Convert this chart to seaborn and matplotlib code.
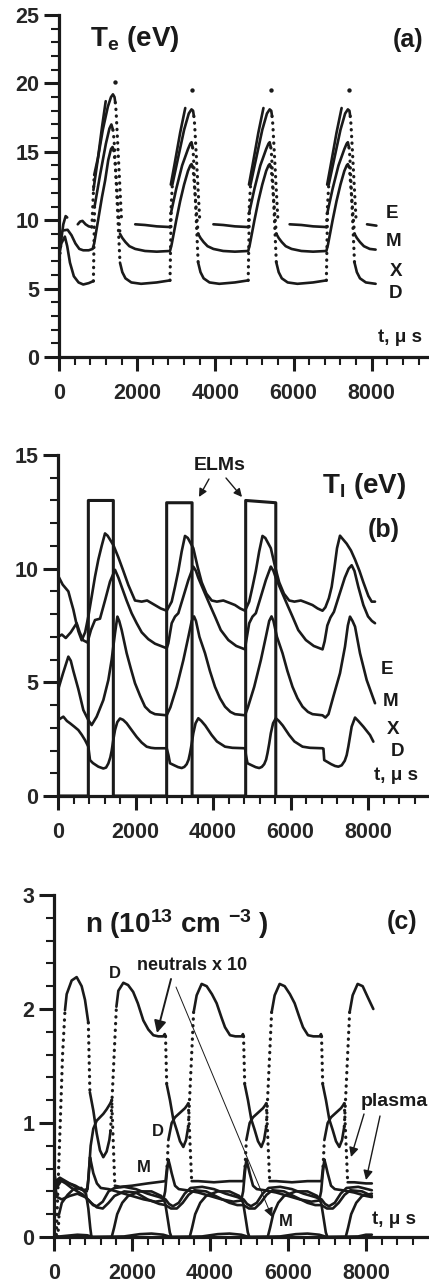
import numpy as np
import matplotlib
matplotlib.use('Agg')
import matplotlib.pyplot as plt
from matplotlib.ticker import MultipleLocator, FixedLocator
import seaborn as sns

nan = np.nan

# ---------------- (a) electron temperature, eV ----------------
te_E_t = [0, 50, 110, 170, 210, nan, 480, 540, 600, 680, 760, 840, 900, 1000, 1120, 1250, 1330, 1380, 1420, 1440, 1460, 1600, nan,
          1950, 2200, 2500, 2840, 2900, 3050, 3200, 3320, 3390, 3430, 3450, 3470, 3600, nan,
          3950, 4200, 4500, 4840, 4900, 5050, 5200, 5320, 5390, 5430, 5450, 5470, 5600, nan,
          5900, 6200, 6500, 6840, 6900, 7050, 7200, 7320, 7390, 7430, 7450, 7470, 7600, nan,
          7880, 8000, 8120]
te_E_v = [6.6, 8.4, 9.7, 10.3, 10.2, nan, 9.7, 9.9, 9.95, 9.7, 9.55, 9.5, 13.3, 14.6, 16.6, 18.3, 19.0, 19.2, 19.0, 18.6, 18.0, 10.0, nan,
          9.7, 9.65, 9.55, 9.5, 12.6, 14.6, 16.6, 17.8, 18.1, 18.0, 17.6, 17.0, 10.0, nan,
          9.7, 9.65, 9.55, 9.5, 12.6, 14.6, 16.6, 17.8, 18.1, 18.0, 17.6, 17.0, 10.0, nan,
          9.7, 9.65, 9.55, 9.5, 12.6, 14.6, 16.6, 17.8, 18.1, 18.0, 17.6, 17.0, 10.0, nan,
          9.7, 9.65, 9.6]

te_M_t = [100, 220, 320, 420, 520, 620, 760, 860, 900, 1000, 1100, 1180, 1260, 1330, 1370, 1400, 1420, 1440,
          1560, 1620, 1700, 1800, 1950, 2200, 2500, 2840, 2880, 3000, 3100, 3200, 3300, 3360, 3390, 3420, 3440,
          3560, 3620, 3700, 3800, 3950, 4200, 4500, 4840, 4880, 5000, 5100, 5200, 5300, 5360, 5390, 5420, 5440,
          5560, 5620, 5700, 5800, 5950, 6200, 6500, 6840, 6880, 7000, 7100, 7200, 7300, 7360, 7390, 7420, 7440,
          7560, 7620, 7700, 7800, 7950, 8100]
te_M_v = [9.25, 9.3, 8.9, 8.3, 7.9, 7.8, 7.8, 7.9, 8.3, 10.0, 11.7, 12.9, 14.4, 15.2, 15.35, 15.1, 14.6, 14.0,
          9.0, 8.7, 8.4, 8.1, 7.9, 7.75, 7.7, 7.75, 8.2, 10.0, 11.4, 12.6, 13.6, 14.0, 14.1, 13.9, 13.4,
          9.0, 8.7, 8.4, 8.1, 7.9, 7.75, 7.7, 7.75, 8.2, 10.0, 11.4, 12.6, 13.6, 14.0, 14.1, 13.9, 13.4,
          9.0, 8.7, 8.4, 8.1, 7.9, 7.75, 7.7, 7.75, 8.2, 10.0, 11.4, 12.6, 13.6, 14.0, 14.1, 13.9, 13.4,
          9.0, 8.7, 8.4, 8.1, 7.9, 7.85]

te_D_t = [0, 60, 150, 210, 280, 380, 500, 620, 760, 880, 910, 1050, 1200, 1290, 1340, 1380, 1400, 1420,
          1560, 1620, 1700, 1850, 2100, 2500, 2840, 2870, 3000, 3150, 3300, 3360, 3390, 3420, 3440,
          3560, 3620, 3700, 3850, 4100, 4500, 4840, 4870, 5000, 5150, 5300, 5360, 5390, 5420, 5440,
          5560, 5620, 5700, 5850, 6100, 6500, 6840, 6870, 7000, 7150, 7300, 7360, 7390, 7420, 7440,
          7560, 7620, 7700, 7850, 8100]
te_D_v = [7.4, 8.3, 8.8, 8.1, 6.9, 5.9, 5.45, 5.3, 5.4, 5.55, 11.0, 13.3, 15.6, 16.7, 17.0, 16.6, 16.1, 15.4,
          6.9, 6.2, 5.75, 5.45, 5.35, 5.45, 5.6, 10.6, 12.3, 14.0, 15.2, 15.6, 15.7, 15.3, 14.7,
          6.9, 6.2, 5.75, 5.45, 5.35, 5.45, 5.6, 10.6, 12.3, 14.0, 15.2, 15.6, 15.7, 15.3, 14.7,
          6.9, 6.2, 5.75, 5.45, 5.35, 5.45, 5.6, 10.6, 12.3, 14.0, 15.2, 15.6, 15.7, 15.3, 14.7,
          6.9, 6.2, 5.75, 5.45, 5.35]

te_X_t = [880, 1000, 1100, 1195, nan, 1443, nan, 2860, 2950, 3100, 3230, nan, 3415, nan,
          4860, 4950, 5100, 5230, nan, 5415, nan, 6860, 6950, 7100, 7230, nan, 7415]
te_X_v = [12.2, 14.6, 16.8, 18.7, nan, 20.1, nan, 12.6, 14.0, 16.4, 18.2, nan, 19.5, nan,
          12.6, 14.0, 16.4, 18.2, nan, 19.5, nan, 12.6, 14.0, 16.4, 18.2, nan, 19.5]

# ---------------- (b) ion temperature, eV ----------------
elm_t = [0, 783, 783, 1428, 1428, 2804, 2804, 3460, 3460, 4843, 4843, 5620, 5620]
elm_v = [0, 0, 13.0, 13.0, 0, 0, 12.9, 12.9, 0, 0, 13.0, 12.9, 0]

ti_E_t = [0, 120, 267, 330, 396, 460, 525, 611, 700, 783, 869, 955, 1041, 1127, 1213, 1280, 1428, 1557, 1686, 1815,
          1987, 2159, 2300, 2450, 2650, 2805, 2934, 3019, 3105, 3191, 3277, 3350, 3492, 3600, 3708, 3830, 3966,
          4100, 4266, 4420, 4567, 4700, 4826, 4934, 5019, 5105, 5191, 5277, 5350, 5492, 5600, 5708, 5830, 5966,
          6100, 6266, 6420, 6567, 6700, 6826, 6900, 6990, 7062, 7130, 7200, 7277, 7350, 7449, 7560, 7665, 7780,
          7880, 8009, 8095, 8181]
ti_E_v = [9.7, 9.3, 9.0, 8.6, 8.2, 7.7, 7.25, 6.85, 7.2, 7.9, 8.77, 9.65, 10.4, 11.0, 11.55, 11.45, 11.04, 10.5, 9.9, 9.28,
          8.6, 8.55, 8.6, 8.45, 8.25, 8.15, 8.55, 9.2, 9.9, 10.75, 11.44, 11.35, 10.9, 10.1, 9.4, 8.9, 8.6,
          8.55, 8.6, 8.5, 8.4, 8.25, 8.15, 8.55, 9.2, 9.9, 10.75, 11.44, 11.35, 10.9, 10.1, 9.4, 8.9, 8.6,
          8.55, 8.6, 8.5, 8.4, 8.25, 8.15, 8.3, 8.7, 9.2, 10.0, 10.9, 11.45, 11.3, 11.1, 10.8, 10.4, 9.9,
          9.4, 8.8, 8.55, 8.55]

ti_M_t = [0, 100, 200, 330, 482, 560, 650, 760, 850, 955, 1084, 1213, 1342, 1471, 1560, 1643, 1770, 1900, 2030,
          2160, 2330, 2503, 2805, 2847, 2934, 3019, 3105, 3235, 3364, 3492, 3560, 3620, 3794, 3920, 4052, 4200,
          4396, 4600, 4826, 4847, 4934, 5019, 5105, 5235, 5364, 5492, 5560, 5620, 5794, 5920, 6052, 6200,
          6396, 6600, 6826, 6880, 6950, 7030, 7120, 7250, 7400, 7500, 7578, 7650, 7750, 7880, 8000, 8100, 8181]
ti_M_v = [7.0, 7.1, 6.95, 7.2, 7.6, 7.2, 6.85, 6.75, 7.3, 7.74, 7.8, 8.6, 9.43, 9.95, 9.6, 9.2, 8.6, 8.04, 7.6,
          7.2, 6.9, 6.7, 6.5, 6.72, 7.6, 7.89, 8.04, 8.77, 9.5, 10.09, 9.9, 9.6, 8.9, 8.4, 7.89, 7.3,
          6.86, 6.6, 6.45, 6.72, 7.6, 7.89, 8.04, 8.77, 9.5, 10.09, 9.9, 9.6, 8.9, 8.4, 7.89, 7.3,
          6.86, 6.6, 6.45, 6.8, 7.5, 7.85, 8.1, 8.8, 9.6, 10.0, 10.15, 9.9, 9.2, 8.4, 7.9, 7.7, 7.6]

ti_X_t = [0, 130, 267, 330, 396, 525, 654, 783, 868, 998, 1170, 1299, 1385, 1471, 1532, 1580, 1643, 1772, 1880,
          1987, 2120, 2245, 2380, 2503, 2805, 2900, 3063, 3235, 3364, 3450, 3510, 3560, 3650, 3794, 3920, 4052,
          4180, 4310, 4450, 4568, 4826, 4900, 5063, 5235, 5364, 5450, 5510, 5560, 5650, 5794, 5920, 6052,
          6180, 6310, 6450, 6568, 6826, 6900, 6980, 7105, 7277, 7406, 7480, 7535, 7600, 7665, 7793, 7966, 8181]
ti_X_v = [4.66, 5.4, 6.13, 5.95, 5.5, 4.7, 3.78, 3.34, 3.12, 3.49, 4.22, 5.1, 6.0, 7.16, 7.89, 7.7, 7.3, 6.28, 5.6,
          4.96, 4.4, 3.93, 3.7, 3.6, 3.55, 3.9, 4.8, 5.98, 7.0, 7.7, 7.9, 7.7, 7.0, 6.28, 5.5, 4.8,
          4.3, 3.93, 3.7, 3.6, 3.55, 3.9, 4.8, 5.98, 7.0, 7.7, 7.9, 7.7, 7.0, 6.28, 5.5, 4.8,
          4.3, 3.93, 3.7, 3.6, 3.55, 3.45, 3.6, 4.37, 5.4, 6.57, 7.5, 7.89, 7.7, 7.45, 6.28, 5.1, 4.08]

ti_D_t = [0, 138, 230, 310, 420, 525, 610, 697, 783, 826, 900, 1041, 1170, 1240, 1299, 1350, 1385, 1430, 1471,
          1530, 1600, 1680, 1772, 1900, 2030, 2160, 2288, 2400, 2503, 2805, 2850, 2890, 3000, 3100, 3192, 3260,
          3321, 3370, 3406, 3450, 3492, 3550, 3621, 3700, 3800, 3966, 4100, 4310, 4500, 4826, 4850, 4890,
          5000, 5100, 5192, 5260, 5321, 5370, 5406, 5450, 5492, 5550, 5621, 5700, 5800, 5966, 6100, 6310,
          6500, 6826, 6850, 6870, 6950, 7050, 7150, 7235, 7320, 7400, 7450, 7492, 7578, 7665, 7750, 7880,
          8052, 8138]
ti_D_v = [3.34, 3.49, 3.3, 3.2, 3.05, 2.9, 2.7, 2.46, 2.17, 1.58, 1.45, 1.29, 1.21, 1.25, 1.43, 1.7, 1.99, 2.5, 2.9,
          3.25, 3.41, 3.35, 3.2, 2.9, 2.6, 2.35, 2.17, 2.12, 2.1, 2.1, 1.8, 1.44, 1.35, 1.27, 1.23, 1.28,
          1.4, 1.6, 1.88, 2.3, 2.76, 3.2, 3.42, 3.3, 3.1, 2.68, 2.4, 2.17, 2.12, 2.1, 1.8, 1.44,
          1.35, 1.27, 1.23, 1.28, 1.4, 1.6, 1.88, 2.3, 2.76, 3.2, 3.42, 3.3, 3.1, 2.68, 2.4, 2.17,
          2.12, 2.1, 2.08, 1.58, 1.5, 1.4, 1.32, 1.29, 1.35, 1.55, 1.8, 2.17, 3.05, 3.45, 3.3, 3.05,
          2.68, 2.39]

# ---------------- (c) density, 1e13 cm^-3 ----------------
nD_neu_t = [60, 150, 220, 282, 325, 453, 581, 709, 795, 880, 920, 1008, 1094, 1179, 1264, 1350, 1419, 1450, 1600,
            1650, 1778, 1900, 2030, 2150, 2290, 2419, 2547, 2675, 2800, 2840, 2860,
            2890, 2974, 3060, 3145, 3231, 3316, 3385, 3444, 3580, 3658, 3786, 3915, 4050, 4171, 4300, 4385,
            4513, 4650, 4820, 4845, 4860,
            4890, 4974, 5060, 5145, 5231, 5316, 5385, 5444, 5580, 5658, 5786, 5915, 6050, 6171, 6300, 6385,
            6513, 6650, 6820, 6845, 6860,
            6890, 6974, 7060, 7145, 7231, 7316, 7385, 7444, 7580, 7658, 7786, 7915, 8050, 8188]
nD_neu_v = [0.02, 0.9, 1.6, 1.99, 2.13, 2.25, 2.28, 2.2, 2.08, 1.88, 1.27, 1.11, 0.91, 0.76, 0.70, 0.75, 0.85, 0.93, 2.02,
            2.16, 2.23, 2.21, 2.15, 2.05, 1.9, 1.82, 1.77, 1.76, 1.76, 1.78, 1.76,
            1.34, 1.2, 1.03, 0.94, 0.84, 0.79, 0.85, 0.97, 1.97, 2.12, 2.22, 2.2, 2.13, 2.05, 1.92, 1.84,
            1.77, 1.76, 1.76, 1.78, 1.76,
            1.34, 1.2, 1.03, 0.94, 0.84, 0.79, 0.85, 0.97, 1.97, 2.12, 2.22, 2.2, 2.13, 2.05, 1.92, 1.84,
            1.77, 1.76, 1.76, 1.78, 1.76,
            1.34, 1.2, 1.03, 0.94, 0.84, 0.79, 0.85, 0.97, 1.97, 2.12, 2.22, 2.2, 2.1, 2.0]

nD_pl_t = [0, 40, 100, 200, 300, 450, 600, 750, 860, 900, 940, 1008, 1094, 1179, 1264, 1350, 1440, 1480, 1560,
           1700, 2000, 2400, 2860, 2900, 2932, 3017, 3103, 3231, 3359, 3444, 3530, 3700, 4100, 4500, 4860,
           4900, 4932, 5017, 5103, 5231, 5359, 5444, 5530, 5700, 6100, 6500, 6860,
           6900, 6932, 7017, 7103, 7231, 7359, 7444, 7530, 7700, 8000, 8150]
nD_pl_v = [0.58, 0.5, 0.45, 0.5, 0.48, 0.46, 0.43, 0.41, 0.42, 0.6, 0.8, 0.95, 1.02, 1.05, 1.08, 1.12, 1.17, 1.2, 0.45,
           0.44, 0.45, 0.47, 0.49, 0.62, 0.85, 1.0, 1.05, 1.09, 1.13, 1.17, 0.49, 0.49, 0.48, 0.49, 0.49,
           0.62, 0.85, 1.0, 1.05, 1.09, 1.13, 1.17, 0.49, 0.49, 0.48, 0.49, 0.49,
           0.62, 0.85, 1.0, 1.05, 1.09, 1.13, 1.17, 0.48, 0.48, 0.47, 0.47]

nM_pl_t = [0, 30, 80, 150, 250, 400, 550, 700, 840, 880, 923, 960, 1008, 1100, 1200, 1400, 1700, 2000, 2300, 2600,
           2800, 2850, 2890, 2932, 2970, 3017, 3103, 3200, 3400, 3700, 4000, 4300, 4600, 4800, 4850, 4890,
           4932, 4970, 5017, 5103, 5200, 5400, 5700, 6000, 6300, 6600, 6800, 6850, 6890, 6932, 6970, 7017,
           7103, 7200, 7400, 7700, 8000, 8150]
nM_pl_v = [0.6, 0.42, 0.5, 0.52, 0.5, 0.47, 0.45, 0.42, 0.4, 0.5, 0.70, 0.64, 0.56, 0.47, 0.43, 0.42, 0.39, 0.36, 0.33, 0.31,
           0.32, 0.4, 0.55, 0.68, 0.63, 0.56, 0.45, 0.42, 0.41, 0.39, 0.36, 0.33, 0.31, 0.32, 0.4, 0.55,
           0.68, 0.63, 0.56, 0.45, 0.42, 0.41, 0.39, 0.36, 0.33, 0.31, 0.32, 0.4, 0.55, 0.68, 0.63, 0.56,
           0.45, 0.42, 0.41, 0.39, 0.36, 0.35]

nE_pl_t = [0, 60, 150, 300, 450, 600, 750, 900, 1000, 1100, 1250, 1400, 1550, 1800, 2100, 2400, 2700, 2860, 2950,
           3050, 3200, 3350, 3500, 3800, 4100, 4400, 4700, 4860, 4950, 5050, 5200, 5350, 5500, 5800, 6100,
           6400, 6700, 6860, 6950, 7050, 7200, 7350, 7500, 7800, 8150]
nE_pl_v = [0.3, 0.45, 0.5, 0.47, 0.43, 0.4, 0.37, 0.32, 0.28, 0.27, 0.31, 0.4, 0.43, 0.44, 0.42, 0.38, 0.35, 0.33, 0.29,
           0.27, 0.3, 0.38, 0.43, 0.44, 0.42, 0.38, 0.35, 0.33, 0.29, 0.27, 0.3, 0.38, 0.43, 0.44, 0.42,
           0.38, 0.35, 0.33, 0.29, 0.27, 0.3, 0.38, 0.43, 0.44, 0.41]

nX_pl_t = [0, 80, 200, 400, 600, 800, 950, 1100, 1250, 1400, 1550, 1800, 2100, 2400, 2700, 2860, 3000, 3150, 3300,
           3450, 3600, 3900, 4200, 4500, 4700, 4860, 5000, 5150, 5300, 5450, 5600, 5900, 6200, 6500, 6700,
           6860, 7000, 7150, 7300, 7450, 7600, 7900, 8150]
nX_pl_v = [0.5, 0.35, 0.33, 0.36, 0.38, 0.35, 0.3, 0.26, 0.25, 0.3, 0.36, 0.4, 0.39, 0.33, 0.29, 0.28, 0.25, 0.25, 0.3,
           0.37, 0.41, 0.4, 0.35, 0.3, 0.28, 0.28, 0.25, 0.25, 0.3, 0.37, 0.41, 0.4, 0.35, 0.3, 0.28,
           0.28, 0.25, 0.25, 0.3, 0.37, 0.41, 0.4, 0.36]

nM_neu_t = [100, 130, 200, 350, 500, 700, 820, 880, 930, 960, 1480, 1540, 1620, 1750, 1900, 2200, 2500, 2750, 2850,
            2920, 2970, 3010, 3480, 3540, 3620, 3750, 3900, 4200, 4500, 4750, 4850, 4920, 4970, 5010, 5480,
            5540, 5620, 5750, 5900, 6200, 6500, 6750, 6850, 6920, 6970, 7010, 7480, 7540, 7620, 7750, 7900, 8150]
nM_neu_v = [0.0, 0.2, 0.3, 0.37, 0.42, 0.43, 0.38, 0.25, 0.08, 0.0, 0.0, 0.08, 0.2, 0.3, 0.36, 0.4, 0.4, 0.36, 0.3,
            0.15, 0.04, 0.0, 0.0, 0.08, 0.2, 0.3, 0.36, 0.4, 0.4, 0.36, 0.3, 0.15, 0.04, 0.0, 0.0,
            0.08, 0.2, 0.3, 0.36, 0.4, 0.4, 0.36, 0.3, 0.15, 0.04, 0.0, 0.0, 0.08, 0.2, 0.3, 0.36, 0.38]

nX_neu_t = [0, 300, 600, 850, 1000, 1800, 2200, 2500, 2800, 3000, 3800, 4200, 4500, 4800, 5000, 5800, 6200, 6500,
            6800, 7000, 7800, 8000, 8150]
nX_neu_v = [0.0, 0.01, 0.02, 0.015, 0.0, 0.005, 0.025, 0.03, 0.02, 0.0, 0.005, 0.025, 0.03, 0.02, 0.0, 0.005, 0.025, 0.03,
            0.02, 0.0, 0.005, 0.02, 0.02]

# ---------------- styling ----------------
sns.set_theme(style='white')
plt.rcParams['font.family'] = ['Liberation Sans', 'DejaVu Sans']
plt.rcParams['font.weight'] = 'bold'
plt.rcParams['mathtext.fontset'] = 'custom'
plt.rcParams['mathtext.rm'] = 'Liberation Sans:bold'
plt.rcParams['mathtext.it'] = 'Liberation Sans:bold'
plt.rcParams['mathtext.bf'] = 'Liberation Sans:bold'
plt.rcParams['axes.linewidth'] = 2.2

W, H = 429, 1284
LW = 1.9
fig = plt.figure(figsize=(W / 100, H / 100), dpi=100)
fig.patch.set_facecolor('white')


def fig_xy(x, y):
    return x / W, 1 - y / H


def make_axes(left, right, bottom, top, xmax, ymax, ymaj, ymin):
    ax = fig.add_axes([left / W, 1 - bottom / H, (right - left) / W, (bottom - top) / H])
    ax.set_xlim(0, xmax)
    ax.set_ylim(0, ymax)
    ax.set_facecolor('none')
    for s in ['top', 'right']:
        ax.spines[s].set_visible(False)
    for s in ['left', 'bottom']:
        ax.spines[s].set_color('k')
        ax.spines[s].set_linewidth(2.3)
    ax.xaxis.set_major_locator(FixedLocator([0, 2000, 4000, 6000, 8000]))
    ax.xaxis.set_minor_locator(MultipleLocator(400))
    ax.yaxis.set_major_locator(MultipleLocator(ymaj))
    ax.yaxis.set_minor_locator(MultipleLocator(ymin))
    ax.tick_params(axis='x', which='major', direction='out', length=10, width=2.2, color='k',
                   labelsize=15.5, pad=8.5, bottom=True)
    ax.tick_params(axis='x', which='minor', direction='out', length=5.5, width=1.5, color='k', bottom=True)
    ax.tick_params(axis='y', which='major', direction='out', length=11, width=2.2, color='k',
                   labelsize=15.5, pad=3, left=True)
    ax.tick_params(axis='y', which='minor', direction='out', length=6, width=1.5, color='k', left=True)
    for lab in ax.get_xticklabels() + ax.get_yticklabels():
        lab.set_fontweight('bold')
    ax.grid(False)
    return ax


def draw_trace(ax, t, v, steep=None, lw=LW):
    t = np.asarray(t, dtype=float)
    v = np.asarray(v, dtype=float)
    xy = ax.transData.transform(np.column_stack([np.nan_to_num(t, nan=0.0), np.nan_to_num(v, nan=0.0)]))
    good = np.isfinite(t) & np.isfinite(v)
    ok = good[:-1] & good[1:]
    dx = np.abs(np.diff(xy[:, 0]))
    dy = np.abs(np.diff(xy[:, 1]))
    if steep is None:
        fast = np.zeros_like(ok)
    else:
        fast = ok & (dy > steep * np.maximum(dx, 1e-6))
    kind = np.where(~ok, 0, np.where(fast, 2, 1))
    n = len(kind)
    i = 0
    while i < n:
        if kind[i] == 0:
            i += 1
            continue
        j = i
        while j < n and kind[j] == kind[i]:
            j += 1
        if kind[i] == 1:
            sns.lineplot(x=t[i:j + 1], y=v[i:j + 1], ax=ax, color='k', lw=lw, sort=False,
                         estimator=None, errorbar=None, solid_capstyle='round', solid_joinstyle='round')
        else:
            sns.lineplot(x=t[i:j + 1], y=v[i:j + 1], ax=ax, color='k', lw=lw + 0.4, sort=False,
                         estimator=None, errorbar=None, linestyle=(0, (0.1, 2.0)), dash_capstyle='round')
        i = j
    # lone points
    for k in range(len(t)):
        if not good[k]:
            continue
        left = k > 0 and ok[k - 1]
        right = k < n and ok[k]
        if not left and not right:
            sns.scatterplot(x=[t[k]], y=[v[k]], ax=ax, color='k', s=10, linewidth=0)
    ax.set_xlabel('')
    ax.set_ylabel('')


def label(x, y, s, size, ha='center', va='center'):
    fx, fy = fig_xy(x, y)
    fig.text(fx, fy, s, fontsize=size, fontweight='bold', ha=ha, va=va, color='k')


def arrow(x0, y0, x1, y1, lw=1.3, scale=16):
    fig.add_artist(matplotlib.patches.FancyArrowPatch(
        fig_xy(x0, y0), fig_xy(x1, y1), transform=fig.transFigure,
        arrowstyle='-|>', mutation_scale=scale, lw=lw, color='k', shrinkA=0, shrinkB=0))


# ---------------- panel (a) ----------------
ax_a = make_axes(59, 428, 357, 15, 9440, 25, 5, 1)
for tt, vv in [(te_D_t, te_D_v), (te_M_t, te_M_v), (te_E_t, te_E_v), (te_X_t, te_X_v)]:
    draw_trace(ax_a, tt, vv, steep=8)
label(90, 46, r'T$_e$ (eV)', 20, ha='left', va='baseline')
label(423, 40, '(a)', 18, ha='right')
for s, (x, y) in zip(['E', 'M', 'X', 'D'], [(392, 214), (394, 242), (396, 271), (396, 293)]):
    label(x, y, s, 13.5)
label(400, 338, 't, μ s', 13.5)

# ---------------- panel (b) ----------------
ax_b = make_axes(58, 428, 796, 455, 9548, 15, 5, 1)
draw_trace(ax_b, elm_t, elm_v, steep=None, lw=2.2)
for tt, vv in [(ti_E_t, ti_E_v), (ti_M_t, ti_M_v), (ti_X_t, ti_X_v), (ti_D_t, ti_D_v)]:
    draw_trace(ax_b, tt, vv, steep=None)
label(322, 493, r'T$_I$ (eV)', 20, ha='left', va='baseline')
label(384, 530, '(b)', 18)
label(220, 466, 'ELMs', 14)
arrow(209, 479, 199, 497, lw=1.0, scale=12)
arrow(226, 478, 242, 497, lw=1.0, scale=12)
for s, (x, y) in zip(['E', 'M', 'X', 'D'], [(387, 669), (391, 702), (393, 729), (397, 752)]):
    label(x, y, s, 13.5)
label(396, 776, 't, μ s', 13.5)

# ---------------- panel (c) ----------------
ax_c = make_axes(54, 428, 1237, 895, 9590, 3, 1, 0.2)
for tt, vv in [(nX_neu_t, nX_neu_v), (nM_neu_t, nM_neu_v), (nX_pl_t, nX_pl_v), (nE_pl_t, nE_pl_v),
               (nM_pl_t, nM_pl_v), (nD_pl_t, nD_pl_v), (nD_neu_t, nD_neu_v)]:
    draw_trace(ax_c, tt, vv, steep=15)
label(85, 933, r'n (10$^{13}$ cm $^{-3}$ )', 20, ha='left', va='baseline')
label(402, 922, '(c)', 18)
label(192, 965, 'neutrals x 10', 13)
label(115, 973, 'D', 12)
label(158, 1132, 'D', 12)
label(144, 1168, 'M', 12)
label(286, 1222, 'M', 12)
label(394, 1102, 'plasma', 14)
label(394, 1219, 't, μ s', 13.5)
arrow(171, 979, 157, 1033, lw=1.4, scale=18)
arrow(176, 987, 272, 1217, lw=0.7, scale=14)
arrow(364, 1114, 351, 1157, lw=1.0, scale=14)
arrow(380, 1116, 366, 1180, lw=1.0, scale=14)

fig.savefig('out.png', dpi=100, facecolor='white')
